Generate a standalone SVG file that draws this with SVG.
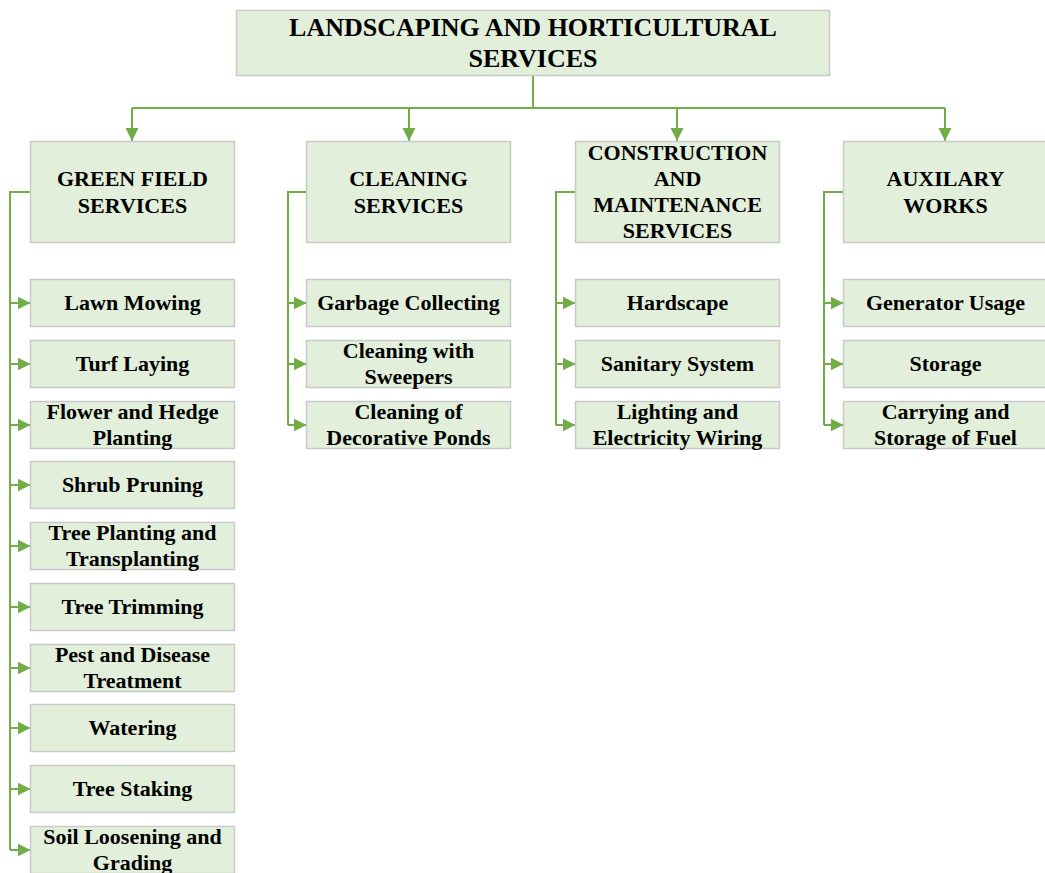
<svg xmlns="http://www.w3.org/2000/svg" width="1045" height="873" viewBox="0 0 1045 873">
<defs>
<style>
.box{fill:#E2EFDA;stroke:#C9C9C9;stroke-width:1.5}
.t{font-family:"Liberation Serif","Times New Roman",serif;font-weight:bold;fill:#000;text-anchor:middle}
.t1{font-size:26px}
.t2{font-size:22px}
.c{fill:none;stroke:#70AD47;stroke-width:2}
</style>
<marker id="ah" markerUnits="userSpaceOnUse" markerWidth="16" markerHeight="16" viewBox="0 0 16 16" refX="13" refY="6.5" orient="auto">
<path d="M0,0 L13,6.5 L0,13 Z" fill="#70AD47"/>
</marker>
</defs>
<rect width="1045" height="873" fill="#fff"/>

<g id="connectors">
<path class="c" d="M533,76 V108 M132,108 H945"/>
<path class="c" d="M132,108 V141" marker-end="url(#ah)"/>
<path class="c" d="M409,108 V141" marker-end="url(#ah)"/>
<path class="c" d="M677,108 V141" marker-end="url(#ah)"/>
<path class="c" d="M945,108 V141" marker-end="url(#ah)"/>

<path class="c" d="M30,192 H10 V850"/>
<path class="c" d="M10,303 H30.5" marker-end="url(#ah)"/>
<path class="c" d="M10,364 H30.5" marker-end="url(#ah)"/>
<path class="c" d="M10,425 H30.5" marker-end="url(#ah)"/>
<path class="c" d="M10,485 H30.5" marker-end="url(#ah)"/>
<path class="c" d="M10,546 H30.5" marker-end="url(#ah)"/>
<path class="c" d="M10,607 H30.5" marker-end="url(#ah)"/>
<path class="c" d="M10,668 H30.5" marker-end="url(#ah)"/>
<path class="c" d="M10,728 H30.5" marker-end="url(#ah)"/>
<path class="c" d="M10,789 H30.5" marker-end="url(#ah)"/>
<path class="c" d="M10,850 H30.5" marker-end="url(#ah)"/>

<path class="c" d="M306,192 H288 V425"/>
<path class="c" d="M288,303 H306.5" marker-end="url(#ah)"/>
<path class="c" d="M288,364 H306.5" marker-end="url(#ah)"/>
<path class="c" d="M288,425 H306.5" marker-end="url(#ah)"/>

<path class="c" d="M575,192 H556 V425"/>
<path class="c" d="M556,303 H575.5" marker-end="url(#ah)"/>
<path class="c" d="M556,364 H575.5" marker-end="url(#ah)"/>
<path class="c" d="M556,425 H575.5" marker-end="url(#ah)"/>

<path class="c" d="M843,192 H824 V425"/>
<path class="c" d="M824,303 H843.5" marker-end="url(#ah)"/>
<path class="c" d="M824,364 H843.5" marker-end="url(#ah)"/>
<path class="c" d="M824,425 H843.5" marker-end="url(#ah)"/>
</g>

<g id="root">
<rect class="box" x="236.5" y="10.5" width="593" height="65"/>
<text class="t t1" x="533" y="36">LANDSCAPING AND HORTICULTURAL</text>
<text class="t t1" x="533" y="67">SERVICES</text>
</g>

<g id="green-field">
<rect class="box" x="30.5" y="141.5" width="204" height="101"/>
<text class="t t2" x="132.5" y="186">GREEN FIELD</text>
<text class="t t2" x="132.5" y="213">SERVICES</text>
</g>
<g id="cleaning">
<rect class="box" x="306.5" y="141.5" width="204" height="101"/>
<text class="t t2" x="408.5" y="186">CLEANING</text>
<text class="t t2" x="408.5" y="213">SERVICES</text>
</g>
<g id="construction">
<rect class="box" x="575.5" y="141.5" width="204" height="101"/>
<text class="t t2" x="677.5" y="160">CONSTRUCTION</text>
<text class="t t2" x="677.5" y="186">AND</text>
<text class="t t2" x="677.5" y="212">MAINTENANCE</text>
<text class="t t2" x="677.5" y="238">SERVICES</text>
</g>
<g id="auxilary">
<rect class="box" x="843.5" y="141.5" width="204" height="101"/>
<text class="t t2" x="945.5" y="186">AUXILARY</text>
<text class="t t2" x="945.5" y="213">WORKS</text>
</g>

<g id="lawn-mowing"><rect class="box" x="30.5" y="279.5" width="204" height="47"/><text class="t t2" x="132.5" y="310">Lawn Mowing</text></g>
<g id="turf-laying"><rect class="box" x="30.5" y="340.5" width="204" height="47"/><text class="t t2" x="132.5" y="371">Turf Laying</text></g>
<g id="flower-hedge"><rect class="box" x="30.5" y="401.5" width="204" height="47"/><text class="t t2" x="132.5" y="419">Flower and Hedge</text><text class="t t2" x="132.5" y="445">Planting</text></g>
<g id="shrub-pruning"><rect class="box" x="30.5" y="461.5" width="204" height="47"/><text class="t t2" x="132.5" y="492">Shrub Pruning</text></g>
<g id="tree-planting"><rect class="box" x="30.5" y="522.5" width="204" height="47"/><text class="t t2" x="132.5" y="540">Tree Planting and</text><text class="t t2" x="132.5" y="566">Transplanting</text></g>
<g id="tree-trimming"><rect class="box" x="30.5" y="583.5" width="204" height="47"/><text class="t t2" x="132.5" y="614">Tree Trimming</text></g>
<g id="pest-disease"><rect class="box" x="30.5" y="644.5" width="204" height="47"/><text class="t t2" x="132.5" y="662">Pest and Disease</text><text class="t t2" x="132.5" y="688">Treatment</text></g>
<g id="watering"><rect class="box" x="30.5" y="704.5" width="204" height="47"/><text class="t t2" x="132.5" y="735">Watering</text></g>
<g id="tree-staking"><rect class="box" x="30.5" y="765.5" width="204" height="47"/><text class="t t2" x="132.5" y="796">Tree Staking</text></g>
<g id="soil-loosening"><rect class="box" x="30.5" y="826.5" width="204" height="47"/><text class="t t2" x="132.5" y="844">Soil Loosening and</text><text class="t t2" x="132.5" y="870">Grading</text></g>

<g id="garbage"><rect class="box" x="306.5" y="279.5" width="204" height="47"/><text class="t t2" x="408.5" y="310">Garbage Collecting</text></g>
<g id="sweepers"><rect class="box" x="306.5" y="340.5" width="204" height="47"/><text class="t t2" x="408.5" y="358">Cleaning with</text><text class="t t2" x="408.5" y="384">Sweepers</text></g>
<g id="ponds"><rect class="box" x="306.5" y="401.5" width="204" height="47"/><text class="t t2" x="408.5" y="419">Cleaning of</text><text class="t t2" x="408.5" y="445">Decorative Ponds</text></g>

<g id="hardscape"><rect class="box" x="575.5" y="279.5" width="204" height="47"/><text class="t t2" x="677.5" y="310">Hardscape</text></g>
<g id="sanitary"><rect class="box" x="575.5" y="340.5" width="204" height="47"/><text class="t t2" x="677.5" y="371">Sanitary System</text></g>
<g id="lighting"><rect class="box" x="575.5" y="401.5" width="204" height="47"/><text class="t t2" x="677.5" y="419">Lighting and</text><text class="t t2" x="677.5" y="445">Electricity Wiring</text></g>

<g id="generator"><rect class="box" x="843.5" y="279.5" width="204" height="47"/><text class="t t2" x="945.5" y="310">Generator Usage</text></g>
<g id="storage"><rect class="box" x="843.5" y="340.5" width="204" height="47"/><text class="t t2" x="945.5" y="371">Storage</text></g>
<g id="fuel"><rect class="box" x="843.5" y="401.5" width="204" height="47"/><text class="t t2" x="945.5" y="419">Carrying and</text><text class="t t2" x="945.5" y="445">Storage of Fuel</text></g>
</svg>
